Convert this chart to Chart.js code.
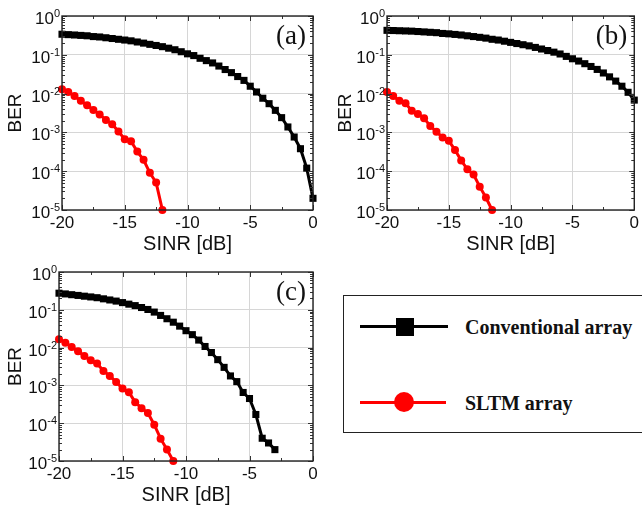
<!DOCTYPE html>
<html lang="en">
<head>
<meta charset="UTF-8">
<title>BER vs SINR</title>
<script src="https://cdn.jsdelivr.net/npm/chart.js"></script>
<style>
  body { margin: 0; width: 642px; height: 508px; overflow: hidden; background: #fff; position: relative; }
  .panel { position: absolute; }
  #legend { position: absolute; left: 343px; top: 295px; width: 310px; height: 138px; border: 1.5px solid #222; box-sizing: border-box; }
  .lline { position: absolute; height: 3px; }
  .ltext { position: absolute; font: bold 20px "Liberation Serif", "Times New Roman", serif; color: #111; line-height: 20px; white-space: nowrap; }
</style>
</head>
<body>
<div class="panel" style="left:0;top:0;width:321px;height:254px"><canvas id="chartA"></canvas></div>
<div class="panel" style="left:321px;top:0;width:321px;height:254px"><canvas id="chartB"></canvas></div>
<div class="panel" style="left:0;top:256px;width:321px;height:252px"><canvas id="chartC"></canvas></div>

<div id="legend">
  <div class="lline" style="left:16px;top:29px;width:88px;background:#000"></div>
  <div style="position:absolute;left:52px;top:22px;width:18px;height:18px;background:#000"></div>
  <div class="ltext" style="left:121px;top:21px">Conventional array</div>
  <div class="lline" style="left:16px;top:105px;width:86px;background:#f00"></div>
  <div style="position:absolute;left:50px;top:96px;width:20px;height:20px;border-radius:50%;background:#f00"></div>
  <div class="ltext" style="left:121px;top:97px">SLTM array</div>
</div>

<script>
// SINR values [dB], shared by all panels
var sinr = [-20, -19.5, -19, -18.5, -18, -17.5, -17, -16.5, -16, -15.5, -15, -14.5, -14, -13.5, -13, -12.5, -12, -11.5, -11, -10.5,
            -10, -9.5, -9, -8.5, -8, -7.5, -7, -6.5, -6, -5.5, -5, -4.5, -4, -3.5, -3, -2.5, -2, -1.5, -1, -0.5, 0];

// (a)
var convA = [0.339, 0.331, 0.324, 0.316, 0.309, 0.295, 0.288, 0.275, 0.263, 0.251, 0.240, 0.229, 0.214, 0.200, 0.186, 0.174, 0.162, 0.148, 0.135, 0.120,
             0.106, 0.0955, 0.0813, 0.0708, 0.0617, 0.0513, 0.0417, 0.0347, 0.0275, 0.0219, 0.0155, 0.011, 0.0076, 0.0055, 0.0037, 0.0024, 0.00138, 0.00076, 0.00038, 0.00012, 0.00002];
var sltmA = [0.0129, 0.0110, 0.0087, 0.0065, 0.0050, 0.0038, 0.0029, 0.0021, 0.00163, 0.00105, 0.00067, 0.00059, 0.00032, 0.000196, 0.000091, 0.000051, 0.00001];

// (b)
var convB = [0.427, 0.422, 0.417, 0.412, 0.407, 0.398, 0.389, 0.380, 0.372, 0.355, 0.347, 0.335, 0.324, 0.309, 0.295, 0.282, 0.269, 0.251, 0.240, 0.224,
             0.209, 0.195, 0.182, 0.170, 0.155, 0.141, 0.129, 0.117, 0.105, 0.091, 0.079, 0.069, 0.059, 0.050, 0.042, 0.034, 0.027, 0.021, 0.0155, 0.0108, 0.0068];
var sltmB = [0.0110, 0.0087, 0.0065, 0.0056, 0.0036, 0.0030, 0.0023, 0.00147, 0.00104, 0.00074, 0.00061, 0.00035, 0.00019, 0.000112, 0.000082, 0.000040, 0.000021, 0.00001];

// (c)
var convC = [0.275, 0.263, 0.251, 0.240, 0.229, 0.219, 0.209, 0.195, 0.182, 0.170, 0.155, 0.141, 0.129, 0.115, 0.102, 0.087, 0.071, 0.058, 0.047, 0.037,
             0.028, 0.022, 0.0158, 0.0107, 0.0074, 0.0048, 0.0030, 0.00178, 0.00126, 0.00065, 0.00045, 0.00017, 0.00004, 0.00003, 0.00002];
var sltmC = [0.0166, 0.0135, 0.0104, 0.0080, 0.0060, 0.0046, 0.0038, 0.0024, 0.00178, 0.00123, 0.00083, 0.00066, 0.00036, 0.00025, 0.000187, 0.000091, 0.000039, 0.000020, 0.00001];

var xTicks = [-20, -15, -10, -5, 0];
var yDecades = [1, 0.1, 0.01, 0.001, 0.0001, 0.00001];
var yExponents = ['0', '-1', '-2', '-3', '-4', '-5'];

var sans = '"Liberation Sans", Arial, sans-serif';

function pairs(xs, ys) {
    return ys.map(function (v, i) { return {x: xs[i], y: v}; });
}

// box, inward ticks, y labels like 10^-3 and the panel letter
var framePlugin = {
    id: 'frame',
    afterDraw: function (chart, args, opts) {
        var ctx = chart.ctx, a = chart.chartArea, x = chart.scales.x, y = chart.scales.y;
        ctx.save();
        ctx.strokeStyle = '#333';
        ctx.lineWidth = 1;
        ctx.beginPath();
        // x ticks every 2.5 dB, major every 5
        for (var v = -20; v <= 0; v += 2.5) {
            var px = Math.round(x.getPixelForValue(v)) + 0.5;
            var len = (v % 5 === 0) ? 5 : 3;
            ctx.moveTo(px, a.bottom); ctx.lineTo(px, a.bottom - len);
            ctx.moveTo(px, a.top); ctx.lineTo(px, a.top + len);
        }
        // log ticks, 1..9 per decade
        for (var d = 0; d < yDecades.length; d++) {
            for (var m = 1; m <= 9; m++) {
                var val = yDecades[d] * m;
                if (val > 1) continue;
                var py = Math.round(y.getPixelForValue(val)) + 0.5;
                var l = m === 1 ? 5 : 3;
                ctx.moveTo(a.left, py); ctx.lineTo(a.left + l, py);
                ctx.moveTo(a.right, py); ctx.lineTo(a.right - l, py);
            }
        }
        ctx.stroke();
        ctx.lineWidth = 1.4;
        ctx.strokeStyle = '#222';
        ctx.strokeRect(a.left, a.top, a.right - a.left, a.bottom - a.top);

        // y tick labels
        ctx.fillStyle = '#111';
        ctx.textBaseline = 'alphabetic';
        for (var i = 0; i < yDecades.length; i++) {
            var yy = y.getPixelForValue(yDecades[i]);
            ctx.font = '11px ' + sans;
            ctx.textAlign = 'right';
            var ew = ctx.measureText(yExponents[i]).width;
            ctx.fillText(yExponents[i], a.left - 2, yy + 1);
            ctx.font = '17px ' + sans;
            ctx.fillText('10', a.left - 2 - ew, yy + 8);
        }

        // panel letter
        ctx.font = '27px "Liberation Serif", "Times New Roman", serif';
        ctx.textAlign = 'right';
        ctx.textBaseline = 'middle';
        ctx.fillStyle = '#111';
        ctx.fillText(opts.letter, a.right - 7, a.top + 21);
        ctx.restore();
    }
};

function makeChart(id, conv, sltm, lay) {
    var ctx = document.getElementById(id).getContext('2d');
    return new Chart(ctx, {
        type: 'line',
        data: {
            datasets: [{
                label: 'Conventional array',
                data: pairs(sinr, conv),
                borderColor: '#000',
                backgroundColor: '#000',
                borderWidth: 3,
                pointStyle: 'rect',
                pointRadius: 5,
                pointBorderWidth: 0,
                clip: false
            }, {
                label: 'SLTM array',
                data: pairs(sinr, sltm),
                borderColor: '#f00',
                backgroundColor: '#f00',
                borderWidth: 3,
                pointStyle: 'circle',
                pointRadius: 4,
                pointBorderWidth: 0,
                clip: false
            }]
        },
        options: {
            responsive: true,
            maintainAspectRatio: false,
            animation: false,
            layout: {padding: {left: 0, top: lay.top, right: lay.right, bottom: 0}},
            plugins: {
                legend: {display: false},
                tooltip: {enabled: false},
                frame: {letter: lay.letter}
            },
            scales: {
                x: {
                    type: 'linear',
                    min: -20,
                    max: 0,
                    afterBuildTicks: function (s) { s.ticks = xTicks.map(function (v) { return {value: v}; }); },
                    afterFit: function (s) { s.height = lay.xh; },
                    grid: {color: '#d6d6d6', drawTicks: false},
                    border: {display: false},
                    ticks: {color: '#111', font: {family: sans, size: 17}, padding: 3, maxRotation: 0},
                    title: {display: true, text: 'SINR [dB]', color: '#111', font: {family: sans, size: 20, lineHeight: 1}, padding: {top: 0, bottom: lay.tb}}
                },
                y: {
                    type: 'logarithmic',
                    min: 0.00001,
                    max: 1,
                    afterBuildTicks: function (s) { s.ticks = yDecades.map(function (v) { return {value: v}; }); },
                    afterFit: function (s) { s.width = lay.yw; },
                    grid: {color: '#d6d6d6', drawTicks: false},
                    border: {display: false},
                    ticks: {display: false},
                    title: {display: true, text: 'BER', color: '#111', font: {family: sans, size: 19, lineHeight: 1}, padding: {top: lay.tl, bottom: 0}}
                }
            }
        },
        plugins: [framePlugin]
    });
}

makeChart('chartA', convA, sltmA, {letter: '(a)', top: 16, right: 8, xh: 44, yw: 62, tb: 0, tl: 6});
makeChart('chartB', convB, sltmB, {letter: '(b)', top: 16, right: 4, xh: 44, yw: 66, tb: 0, tl: 15});
makeChart('chartC', convC, sltmC, {letter: '(c)', top: 16, right: 8, xh: 47, yw: 59, tb: 3, tl: 6});
</script>
</body>
</html>
